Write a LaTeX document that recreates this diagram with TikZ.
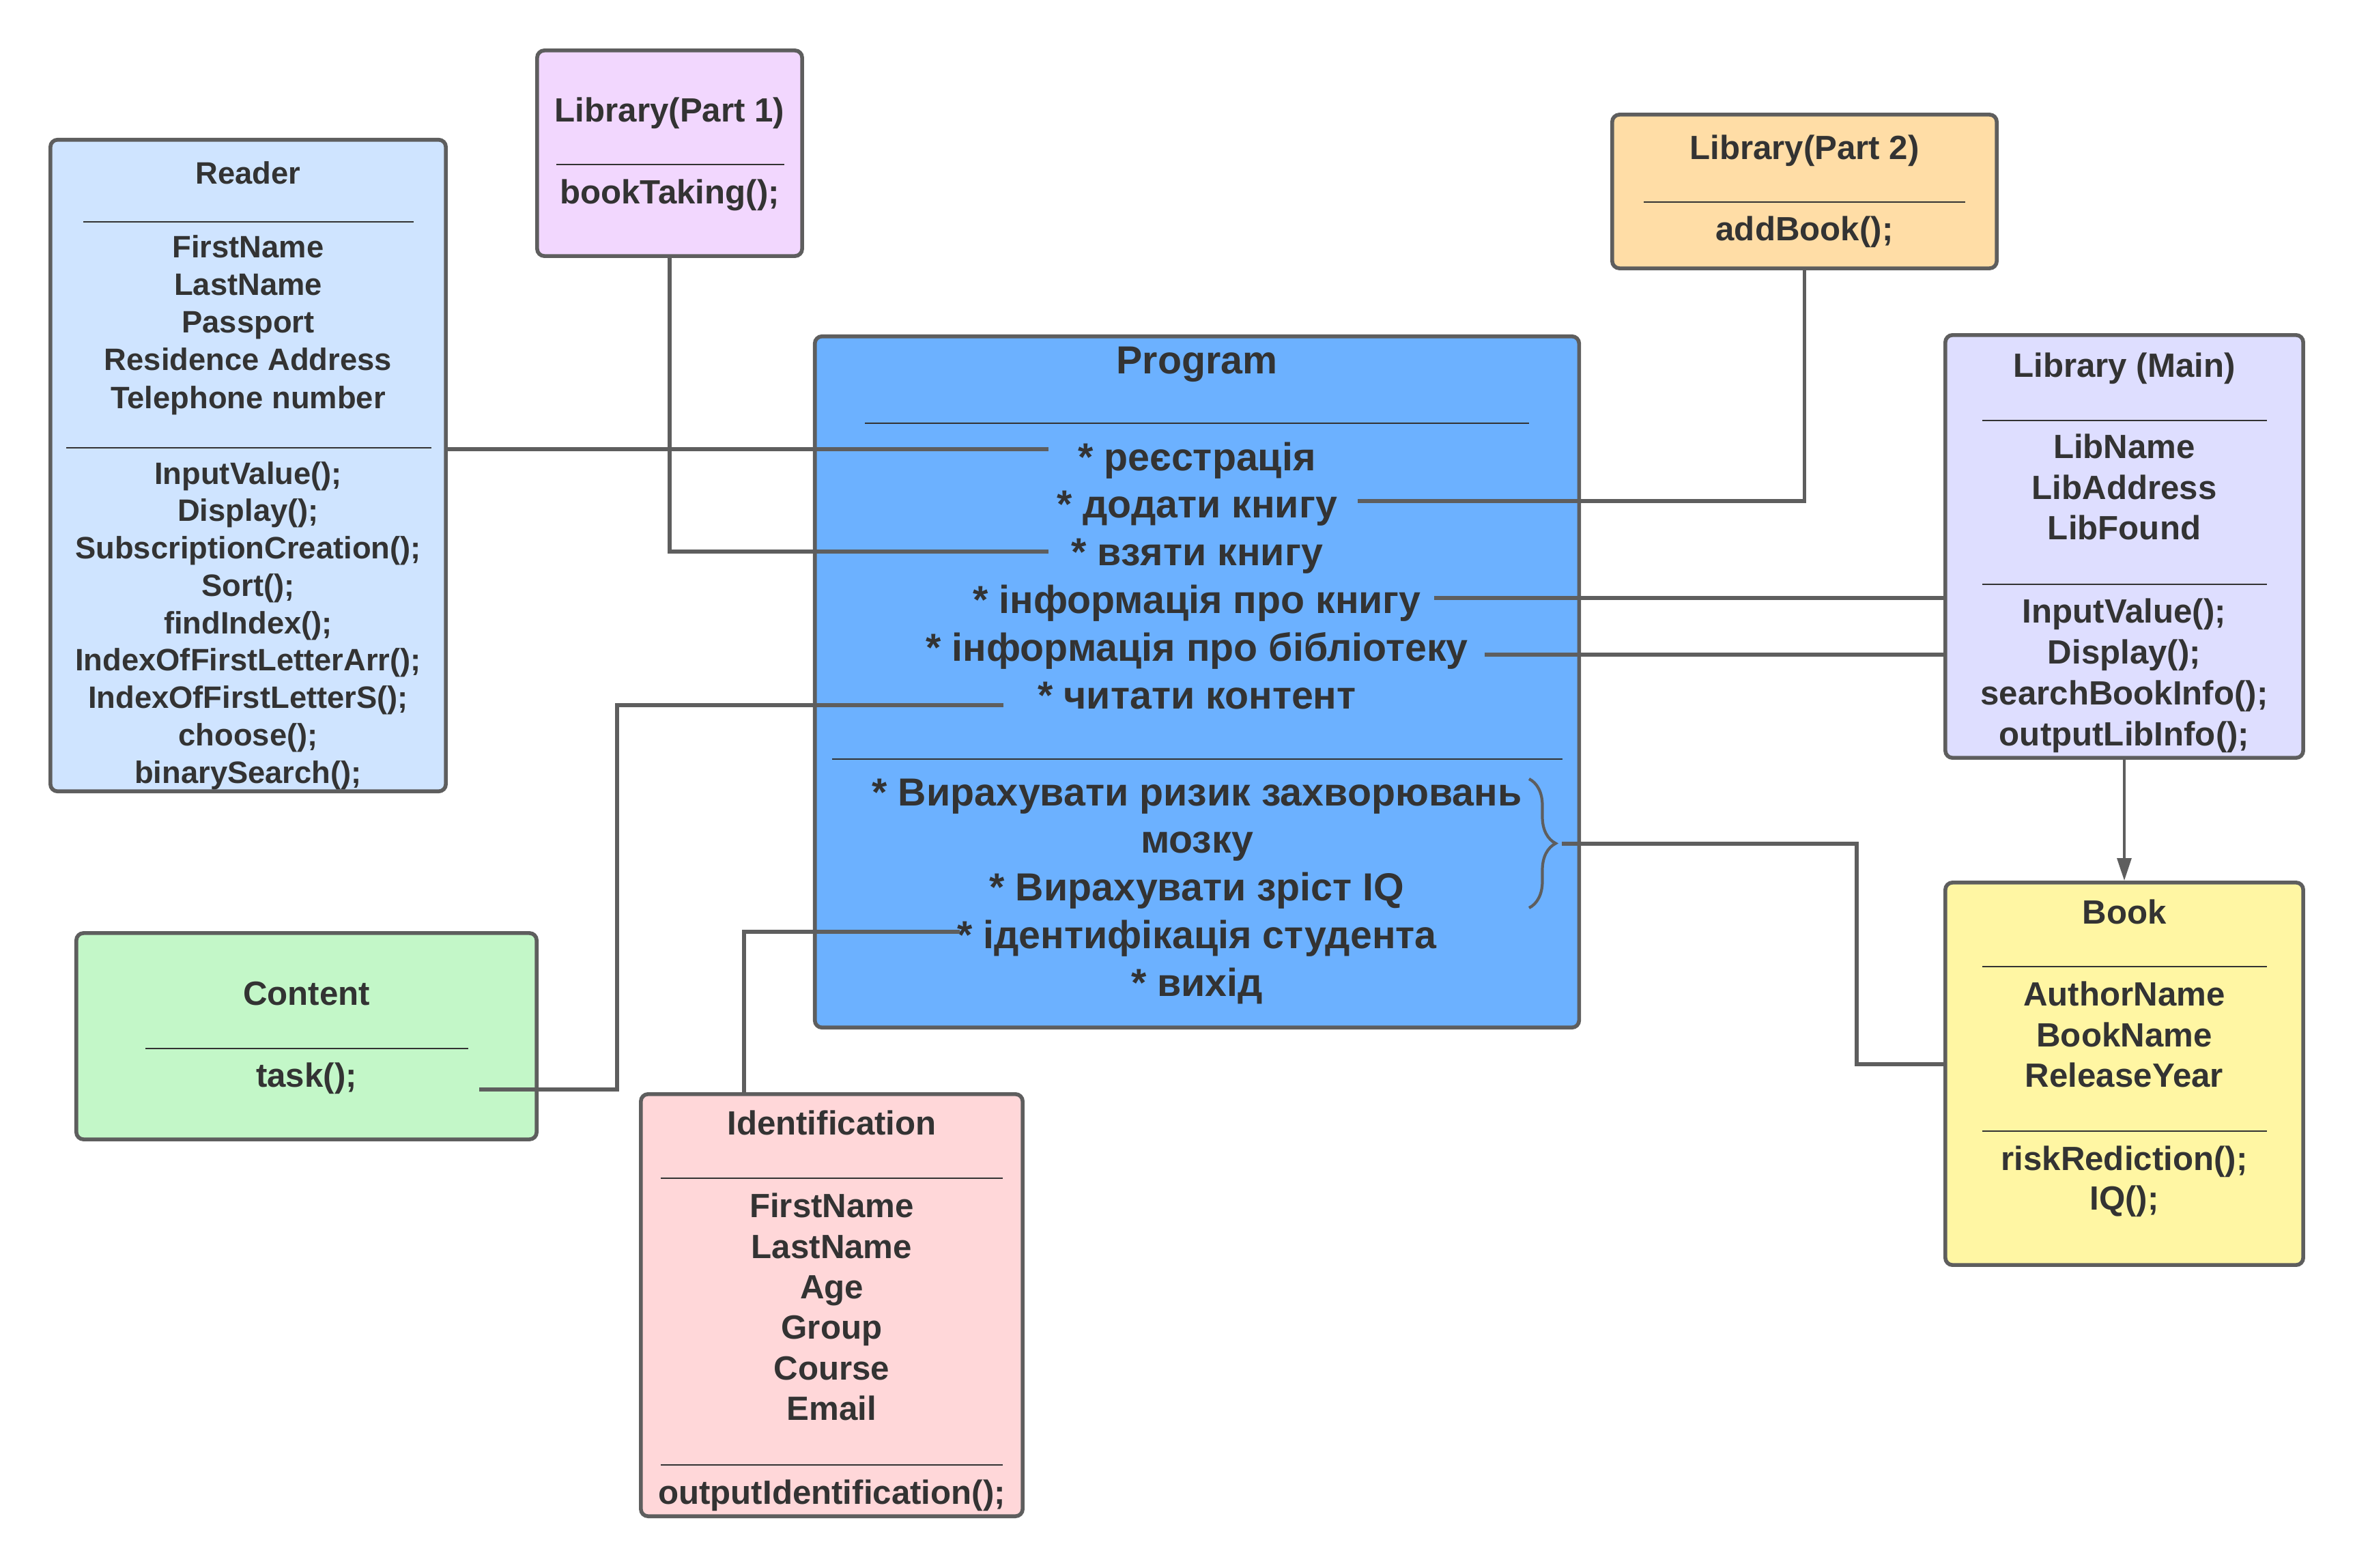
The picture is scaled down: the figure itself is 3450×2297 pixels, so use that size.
\documentclass[tikz,border=0pt]{standalone}
\usepackage{fontspec}
\setmainfont{Liberation Sans}
\usetikzlibrary{arrows.meta,decorations.pathreplacing}

\definecolor{linegray}{HTML}{5E5E5E}
\definecolor{txtgray}{HTML}{333333}
\definecolor{readerfill}{HTML}{CFE4FF}
\definecolor{partonefill}{HTML}{F2D7FE}
\definecolor{parttwofill}{HTML}{FFDDA6}
\definecolor{programfill}{HTML}{6CB1FF}
\definecolor{mainfill}{HTML}{DEDEFF}
\definecolor{bookfill}{HTML}{FFF6A3}
\definecolor{contentfill}{HTML}{C3F7C8}
\definecolor{identfill}{HTML}{FFD7D9}

\newcommand\fntS{\fontsize{12.9pt}{15pt}\selectfont\bfseries}
\newcommand\fntM{\fontsize{14pt}{17pt}\selectfont\bfseries}
\newcommand\fntL{\fontsize{16.3pt}{19pt}\selectfont\bfseries}

\tikzset{
          cls/.style={draw=linegray, line width=1.6pt, rounded corners=3pt, inner sep=0pt},
          sep/.style={draw=txtgray, line width=0.7pt},
          conn/.style={draw=linegray, line width=1.6pt},
          lbl/.style={text=txtgray, inner sep=0pt, anchor=base}
        }
\tikzset{
          lblS/.style={lbl, font=\fntS, yshift=-0.16cm},
          lblM/.style={lbl, font=\fntM, yshift=-0.177cm},
          lblL/.style={lbl, font=\fntL, yshift=-0.2cm}
        }

\begin{document}
\begin{tikzpicture}[x=0.01cm, y=-0.01cm]
  \fill[white] (0,0) rectangle (3450,2297);
  \useasboundingbox (0,0) rectangle (3450,2297);

  % boxes
  \node[cls, fill=readerfill,  minimum width=5.79cm,  minimum height=9.54cm]  (reader)   at (363.5,682)   {};
  \node[cls, fill=partonefill, minimum width=3.88cm,  minimum height=3.01cm]  (partone)  at (981,224.5)   {};
  \node[cls, fill=parttwofill, minimum width=5.63cm,  minimum height=2.25cm]  (parttwo)  at (2643.5,280.5) {};
  \node[cls, fill=programfill, minimum width=11.19cm, minimum height=10.12cm] (program)  at (1753.5,999)  {};
  \node[cls, fill=mainfill,    minimum width=5.24cm,  minimum height=6.19cm]  (libmain)  at (3112,800.5)  {};
  \node[cls, fill=bookfill,    minimum width=5.24cm,  minimum height=5.60cm]  (book)     at (3112,1573)   {};
  \node[cls, fill=contentfill, minimum width=6.74cm,  minimum height=3.02cm]  (content)  at (449,1518)    {};
  \node[cls, fill=identfill,   minimum width=5.59cm,  minimum height=6.18cm]  (ident)    at (1218.5,1912) {};

  % Reader
  \node[lblS] (readerT) at (363.5,253) {Reader};
  \draw[sep] (122,325) -- (606,325);
  \foreach \t [count=\i from 0] in {FirstName, LastName, Passport, Residence Address, Telephone number}
    \node[lblS] (ra\i) at (363.5, 361+55.25*\i) {\t};
  \draw[sep] (97,656) -- (632,656);
  \foreach \t [count=\i from 0] in {{InputValue();}, {Display();}, {SubscriptionCreation();}, {Sort();}, {findIndex();},
      {IndexOfFirstLetterArr();}, {IndexOfFirstLetterS();}, {choose();}, {binarySearch();}}
    \node[lblS] (rm\i) at (363.5, 693+54.75*\i) {\t};

  % Library parts
  \node[lblM] (partoneT) at (981,161) {Library(Part 1)};
  \draw[sep] (815,241) -- (1149,241);
  \node[lblM] (partoneM) at (981,281) {bookTaking();};
  \node[lblM] (parttwoT) at (2643.5,216) {Library(Part 2)};
  \draw[sep] (2408,296) -- (2879,296);
  \node[lblM] (parttwoM) at (2643.5,335) {addBook();};

  % Program
  \node[lblL] (programT) at (1753.5,527) {Program};
  \draw[sep] (1267,620) -- (2240,620);
  \foreach \t [count=\i from 0] in {* реєстрація, * додати книгу, * взяти книгу, * інформація про книгу,
      * інформація про бібліотеку, * читати контент}
    \node[lblL] (pa\i) at (1753.5, 669+69.8*\i) {\t};
  \draw[sep] (1219,1112) -- (2289,1112);
  \foreach \t [count=\i from 0] in {* Вирахувати ризик захворювань, мозку, * Вирахувати зріст IQ,
      * ідентифікація студента, * вихід}
    \node[lblL] (pb\i) at (1753.5, 1160+69.75*\i) {\t};
  \draw[linegray, line width=1.2pt, decorate, decoration={brace, amplitude=0.39cm}] (2240,1141) -- (2240,1330);

  % Library (Main)
  \node[lblM] (libmainT) at (3112,535) {Library (Main)};
  \draw[sep] (2904,616) -- (3321,616);
  \foreach \t [count=\i from 0] in {LibName, LibAddress, LibFound}
    \node[lblM] (la\i) at (3112, 654+59.5*\i) {\t};
  \draw[sep] (2904,856) -- (3321,856);
  \foreach \t [count=\i from 0] in {{InputValue();}, {Display();}, {searchBookInfo();}, {outputLibInfo();}}
    \node[lblM] (lm\i) at (3112, 895+60*\i) {\t};

  % Book
  \node[lblM] (bookT) at (3112,1336) {Book};
  \draw[sep] (2904,1416) -- (3321,1416);
  \foreach \t [count=\i from 0] in {AuthorName, BookName, ReleaseYear}
    \node[lblM] (ba\i) at (3112, 1456+59.5*\i) {\t};
  \draw[sep] (2904,1657) -- (3321,1657);
  \foreach \t [count=\i from 0] in {{riskRediction();}, {IQ();}}
    \node[lblM] (bm\i) at (3112, 1697+58*\i) {\t};

  % Content
  \node[lblM] (contentT) at (449,1455) {Content};
  \draw[sep] (213,1536) -- (686,1536);
  \node[lblM] (contentM) at (449,1575) {task();};

  % Identification
  \node[lblM] (identT) at (1218.5,1645) {Identification};
  \draw[sep] (968,1726) -- (1469,1726);
  \foreach \t [count=\i from 0] in {FirstName, LastName, Age, Group, Course, Email}
    \node[lblM] (ia\i) at (1218.5, 1766+59.4*\i) {\t};
  \draw[sep] (968,2146) -- (1469,2146);
  \node[lblM] (identM) at (1218.5,2186) {outputIdentification();};

  % connector ends inside Program
  \coordinate (regC)      at (1536,658);
  \coordinate (addC)      at (1989,734);
  \coordinate (takeC)     at (1536,808);
  \coordinate (infoBookC) at (2101,876);
  \coordinate (infoLibC)  at (2175,959);
  \coordinate (readC)     at (1470,1033);
  \coordinate (identC)    at (1406,1365);
  \coordinate (braceC)    at (2288,1236);
  \coordinate (taskC)     at (702,1596);

  % connectors
  \draw[conn] (reader.east |- regC) -- (regC);
  \draw[conn] (partone.south) |- (takeC);
  \draw[conn] (parttwo.south) |- (addC);
  \draw[conn] (infoBookC) -- (libmain.west |- infoBookC);
  \draw[conn] (infoLibC) -- (libmain.west |- infoLibC);
  \draw[conn] (taskC) -- ++(202,0) |- (readC);
  \draw[conn] (identC) -| ([xshift=-1.285cm]ident.north);
  \draw[conn] (braceC) -- ++(432,0) |- ([yshift=0.14cm]book.west);
  \draw[conn, line width=0.9pt, -{Triangle[length=0.33cm, width=0.21cm]}] (libmain.south) -- (book.north);
\end{tikzpicture}
\end{document}
